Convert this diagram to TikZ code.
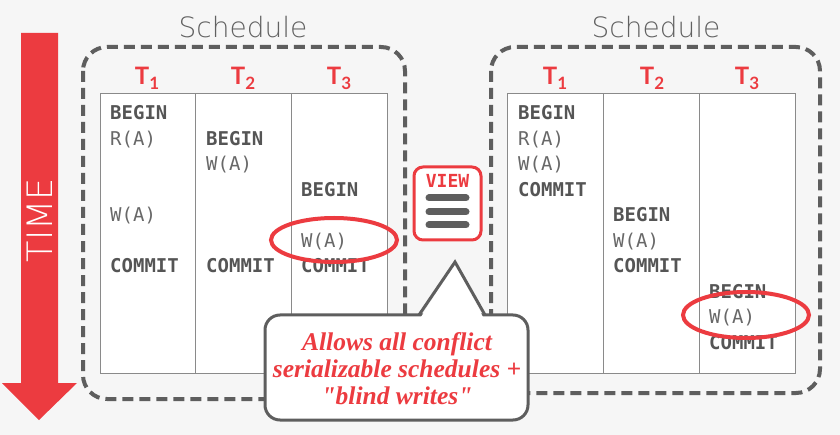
\documentclass[tikz,border=0pt]{standalone}
\usepackage{fontspec}
\newfontfamily\monofont{DejaVu Sans Mono}
\newfontfamily\titlefont{Lato}
\newfontfamily\lightfont{DejaVuSans-ExtraLight.ttf}
\newfontfamily\serifcall{Liberation Serif}
\definecolor{accred}{HTML}{EC3B40}
\definecolor{boxgray}{HTML}{5E5E5E}
\definecolor{txtdark}{HTML}{555555}
\definecolor{txtlight}{HTML}{686868}
\definecolor{gridgray}{HTML}{8A8A8A}
\definecolor{bgcol}{HTML}{F6F6F6}
\tikzset{
  titletext/.style={font=\lightfont\fontsize{28bp}{28bp}\selectfont, text=black!62, inner sep=0pt},
  schedbox/.style={draw=boxgray, line width=4bp, dash pattern=on 11bp off 6bp, rounded corners=24bp},
  grid/.style={draw=gridgray, line width=1bp},
  thead/.style={font=\titlefont\bfseries\fontsize{24bp}{24bp}\selectfont, text=accred, inner sep=0pt, anchor=base},
  opb/.style={font=\monofont\bfseries\fontsize{19bp}{19bp}\selectfont, text=txtdark, inner sep=0pt, anchor=base west},
  opr/.style={font=\monofont\fontsize{19bp}{19bp}\selectfont, text=txtlight, inner sep=0pt, anchor=base west},
  ring/.style={draw=accred, line width=4bp},
  bar/.style={draw=boxgray, line width=7bp, line cap=round},
}
\newcommand{\Tsub}[1]{T\raisebox{-5bp}{\fontsize{17bp}{17bp}\selectfont #1}}
\begin{document}
\begin{tikzpicture}[x=1bp,y=-1bp]
\useasboundingbox (0,0) rectangle (840,435);
\fill[bgcol] (0,0) rectangle (840,435);

% TIME arrow
\fill[accred] (21,33) -- (58,33) -- (58,383) -- (77,383) -- (39,420) -- (2,383) -- (21,383) -- cycle;
\node[rotate=90, text=white, font=\lightfont\fontsize{35bp}{35bp}\selectfont, inner sep=0pt] (time) at (40,220) {TIME};

% ---------- left schedule ----------
\node[titletext] (ltitle) at (243,27) {Schedule};
\draw[schedbox] (83,47) rectangle (405,399);
\fill[white] (100,94) rectangle (387,374);
\draw[grid] (100,94) rectangle (387,374);
\draw[grid] (195,94) -- (195,374);
\draw[grid] (291,94) -- (291,374);
\node[thead] (lt1) at (147,85) {\Tsub{1}};
\node[thead] (lt2) at (243,85) {\Tsub{2}};
\node[thead] (lt3) at (339,85) {\Tsub{3}};
% rows: center + 7 = baseline
\node[opb] (la1) at (110,120) {BEGIN};
\node[opr] (la2) at (110,145.5) {R(A)};
\node[opr] (la3) at (110,222) {W(A)};
\node[opb] (la4) at (110,273) {COMMIT};
\node[opb] (lb1) at (206,145.5) {BEGIN};
\node[opr] (lb2) at (206,171) {W(A)};
\node[opb] (lb3) at (206,273) {COMMIT};
\node[opb] (lc1) at (301,196.5) {BEGIN};
\node[opr] (lc2) at (301,247.5) {W(A)};
\node[opb] (lc3) at (301,273) {COMMIT};
\draw[ring] (334,240) ellipse [x radius=63, y radius=22];

% ---------- right schedule ----------
\node[titletext] (rtitle) at (656,27) {Schedule};
\draw[schedbox] (491,47) rectangle (820,393);
\fill[white] (507,94) rectangle (795,374);
\draw[grid] (507,94) rectangle (795,374);
\draw[grid] (603,94) -- (603,374);
\draw[grid] (699,94) -- (699,374);
\node[thead] (rt1) at (555,85) {\Tsub{1}};
\node[thead] (rt2) at (652,85) {\Tsub{2}};
\node[thead] (rt3) at (747,85) {\Tsub{3}};
\node[opb] (ra1) at (518,120) {BEGIN};
\node[opr] (ra2) at (518,145.5) {R(A)};
\node[opr] (ra3) at (518,171) {W(A)};
\node[opb] (ra4) at (518,196.5) {COMMIT};
\node[opb] (rb1) at (613,222) {BEGIN};
\node[opr] (rb2) at (613,247.5) {W(A)};
\node[opb] (rb3) at (613,273) {COMMIT};
\node[opb] (rc1) at (709,298.5) {BEGIN};
\node[opr] (rc2) at (709,324) {W(A)};
\node[opb] (rc3) at (709,349.5) {COMMIT};
\draw[ring] (746,315) ellipse [x radius=63, y radius=23];

% ---------- VIEW icon ----------
\draw[draw=accred, fill=white, line width=3bp, rounded corners=9bp] (414,167) rectangle (481,240);
\node[font=\monofont\bfseries\fontsize{18bp}{18bp}\selectfont, text=accred, inner sep=0pt] (view) at (447.5,181) {VIEW};
\draw[bar] (429,198) -- (466,198);
\draw[bar] (429,212) -- (466,212);
\draw[bar] (429,225) -- (466,225);

% ---------- callout ----------
\draw[draw=boxgray, fill=white, line width=3bp, rounded corners=15bp] (265,315) rectangle (528,420);
\fill[white] (421,317) -- (455,263) -- (483,317) -- cycle;
\draw[draw=boxgray, line width=3bp, line join=miter] (419,315) -- (455,262) -- (485,315);
\node[align=center, text=accred, font=\serifcall\bfseries\itshape\fontsize{25.5bp}{27bp}\selectfont, inner sep=0pt] (note) at (397,369) {Allows all conflict\\serializable schedules +\\"blind writes"};
\end{tikzpicture}
\end{document}
